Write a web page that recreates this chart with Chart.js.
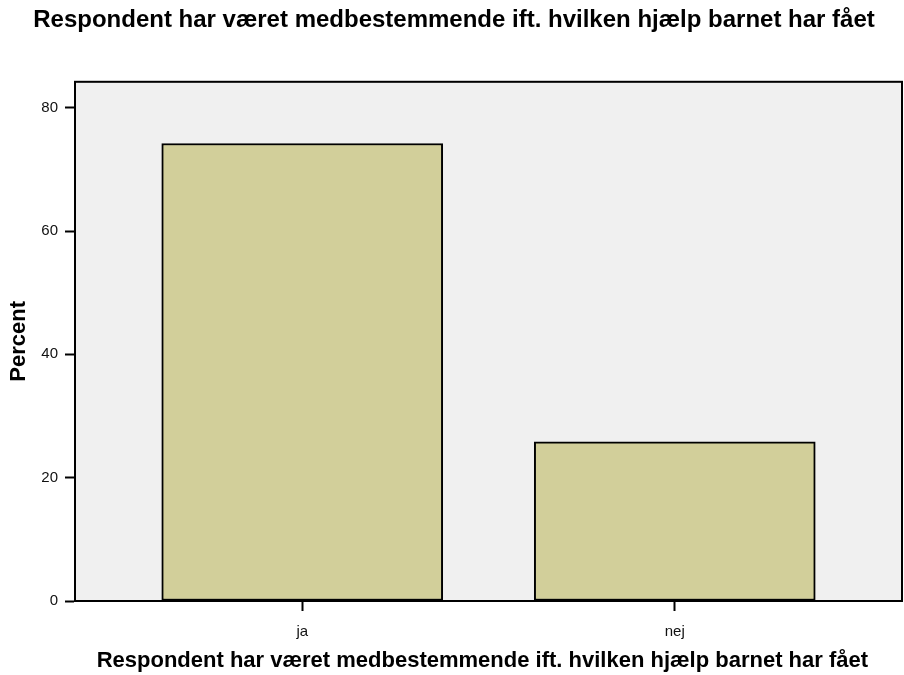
<!DOCTYPE html>
<html>
<head>
<meta charset="utf-8">
<script src="https://cdn.jsdelivr.net/npm/chart.js@4/dist/chart.umd.min.js"></script>
<style>
  html, body { margin: 0; padding: 0; background: #fff; }
  #wrap { width: 904px; height: 675px; }
</style>
</head>
<body>
<div id="wrap"><canvas id="chart"></canvas></div>
<script>
const titleText = 'Respondent har været medbestemmende ift. hvilken hjælp barnet har fået'
const categories = ['ja', 'nej']
const positions = [1, 2]
const percent = [74.2, 25.8]
const yTicks = [0, 20, 40, 60, 80]

const font = "'Liberation Sans', Arial, Helvetica, sans-serif"

// grey plot box with a full black frame
const plotBox = {
  id: 'plotBox',
  beforeDatasetsDraw (chart) {
    const { ctx, chartArea: a } = chart
    ctx.save()
    ctx.fillStyle = '#f0f0f0'
    ctx.fillRect(a.left, a.top, a.right - a.left, a.bottom - a.top)
    ctx.strokeStyle = '#000'
    ctx.lineWidth = 2
    ctx.strokeRect(a.left, a.top, a.right - a.left, a.bottom - a.top)
    ctx.restore()
  }
}

const data = {
  datasets: [{
    data: positions.map((x, i) => ({ x, y: percent[i] })),
    backgroundColor: '#d2cf9a',
    borderColor: '#000',
    borderWidth: 2,
    borderSkipped: false,
    barThickness: 281
  }]
}

const config = {
  type: 'bar',
  data,
  plugins: [plotBox],
  options: {
    responsive: true,
    maintainAspectRatio: false,
    animation: false,
    layout: { padding: { left: 6, right: 2, top: 0, bottom: 1 } },
    plugins: {
      legend: { display: false },
      tooltip: { enabled: false },
      title: {
        display: true,
        text: titleText,
        color: '#000',
        font: { family: font, size: 24, weight: 'bold' },
        padding: { top: 6, bottom: 47 }
      }
    },
    scales: {
      x: {
        type: 'linear',
        min: 0.39,
        max: 2.61,
        offset: false,
        afterBuildTicks (scale) {
          scale.ticks = positions.map(v => ({ value: v }))
        },
        afterFit (scale) {
          scale.height = 73
        },
        ticks: {
          color: '#111',
          font: { family: font, size: 15 },
          padding: 12,
          callback: (v) => categories[positions.indexOf(v)] ?? ''
        },
        grid: { offset: false, drawOnChartArea: false, color: '#000', tickLength: 10, tickWidth: 2 },
        border: { display: true, color: '#000', width: 2 },
        title: {
          display: true,
          // trailing spaces nudge the centred title a little to the left, as in the source
          text: titleText + '  ',
          color: '#000',
          font: { family: font, size: 22, weight: 'bold' },
          padding: { top: 0, bottom: 0 }
        }
      },
      y: {
        min: 0,
        max: 84.2,
        afterBuildTicks (scale) {
          scale.ticks = yTicks.map(v => ({ value: v }))
        },
        afterFit (scale) {
          scale.width = 69
        },
        ticks: {
          color: '#111',
          font: { family: font, size: 15 },
          padding: 7
        },
        grid: { drawOnChartArea: false, color: '#000', tickLength: 10, tickWidth: 2 },
        border: { display: true, color: '#000', width: 2 },
        title: {
          display: true,
          text: 'Percent',
          color: '#000',
          font: { family: font, size: 22, weight: 'bold' },
          padding: 0
        }
      }
    }
  }
}

new Chart(document.getElementById('chart'), config)
</script>
</body>
</html>
